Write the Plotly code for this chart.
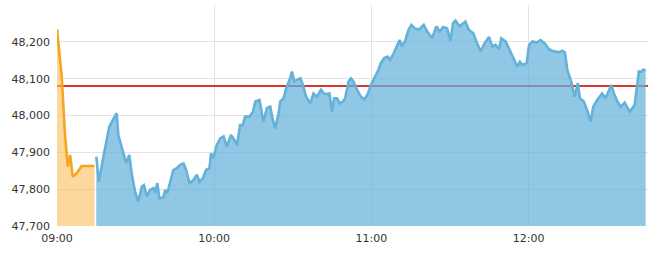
import pandas as pd
import plotly.graph_objects as go

base = pd.Timestamp("2024-01-01 09:00:00")

# Pre-open / opening auction segment (orange)
orange_minutes = [0, 1, 1.8, 3.0, 4.1, 5.0, 6.0, 7.5, 9.4, 14.3]
orange_values = [48234, 48165, 48106, 47953, 47861, 47893, 47834, 47843, 47863, 47863]

# Continuous session (blue)
blue_minutes = [15.0, 16.0, 17.7, 20.0, 22.0, 22.8, 23.4, 25.3, 26.4, 27.6, 28.5, 29.8, 31.0, 32.4,
                33.2, 34.3, 35.5, 36.8, 37.4, 38.3, 39.1, 40.6, 41.3, 42.1, 43.2, 44.4, 45.7, 47.0,
                48.3, 49.3, 50.6, 52.1, 53.4, 54.4, 55.7, 56.9, 58.2, 58.8, 59.7, 61.0, 62.3, 63.6,
                64.8, 66.4, 67.4, 68.7, 69.9, 70.9, 71.8, 73.5, 74.8, 75.7, 77.3, 78.2, 78.8, 80.1,
                81.4, 82.4, 83.3, 84.6, 85.2, 86.5, 87.5, 88.8, 89.7, 90.6, 91.6, 92.9, 93.9, 95.1,
                96.7, 97.9, 99.2, 100.8, 101.8, 103.1, 104.0, 105.0, 105.8, 106.9, 107.9, 109.2,
                110.0, 111.3, 112.2, 113.2, 114.5, 116.0, 117.3, 118.5, 119.8, 121.1, 122.4, 123.6,
                124.9, 126.2, 127.2, 128.5, 129.8, 130.8, 131.7, 133.0, 134.2, 135.3, 136.5, 138.1,
                140.0, 141.3, 143.2, 144.8, 146.1, 147.4, 148.9, 150.2, 151.2, 152.1, 153.7, 155.9,
                157.2, 158.9, 160.1, 161.7, 163.2, 164.9, 166.2, 167.4, 168.7, 169.6, 171.3, 172.5,
                174.2, 175.7, 176.7, 177.6, 179.3, 180.2, 181.5, 183.1, 184.6, 186.2, 187.8, 189.7,
                191.6, 192.9, 193.9, 194.8, 196.3, 197.6, 198.8, 199.6, 201.1, 202.6, 203.7, 204.7,
                206.2, 208.1, 209.4, 211.6, 212.6, 213.9, 215.2, 216.7, 218.7, 220.5, 222.1, 223.0,
                223.8, 224.7]
blue_values = [47888, 47820, 47888, 47970, 47997, 48006, 47947, 47897, 47871, 47893, 47843, 47793,
               47766, 47807, 47811, 47780, 47798, 47803, 47790, 47816, 47775, 47778, 47798, 47789,
               47820, 47852, 47857, 47866, 47870, 47852, 47816, 47825, 47839, 47820, 47830, 47852,
               47857, 47897, 47884, 47920, 47938, 47943, 47915, 47947, 47938, 47920, 47974, 47974,
               47997, 47997, 48010, 48038, 48042, 48006, 47983, 48020, 48024, 47988, 47965, 48006,
               48038, 48047, 48074, 48097, 48119, 48092, 48097, 48101, 48083, 48051, 48033, 48060,
               48051, 48070, 48060, 48058, 48060, 48010, 48047, 48047, 48033, 48038, 48047, 48092,
               48101, 48092, 48070, 48051, 48044, 48056, 48083, 48101, 48119, 48142, 48156, 48160,
               48151, 48169, 48187, 48205, 48187, 48205, 48233, 48246, 48237, 48233, 48246, 48228,
               48210, 48242, 48228, 48240, 48237, 48203, 48251, 48258, 48242, 48255, 48233, 48223,
               48201, 48174, 48196, 48213, 48187, 48192, 48180, 48210, 48201, 48183, 48160, 48133,
               48146, 48137, 48142, 48192, 48201, 48198, 48205, 48196, 48180, 48174, 48172, 48176,
               48171, 48124, 48092, 48051, 48088, 48047, 48038, 48010, 47983, 48024, 48042, 48060,
               48047, 48083, 48060, 48038, 48024, 48035, 48010, 48029, 48119, 48119, 48124, 48122]

prev_close = 48080
x_tick_labels = ["09:00", "10:00", "11:00", "12:00"]
y_ticks = [47700, 47800, 47900, 48000, 48100, 48200, 48300]
y_tick_labels = ["47,700", "47,800", "47,900", "48,000", "48,100", "48,200", ""]
axis_end_minutes = 225.6


def to_time(mins):
    return [base + pd.Timedelta(minutes=m) for m in mins]


end_time = base + pd.Timedelta(minutes=axis_end_minutes)
x_tickvals = [pd.Timestamp("2024-01-01 " + t + ":00") for t in x_tick_labels]

fig = go.Figure()
fig.add_trace(go.Scatter(x=[base, end_time], y=[prev_close, prev_close], mode="lines",
                         line=dict(color="#d9362c", width=2), hoverinfo="skip"))
fig.add_trace(go.Scatter(x=to_time(orange_minutes), y=orange_values, mode="lines",
                         line=dict(color="#f7a520", width=2.6), fill="tozeroy",
                         fillcolor="rgba(252,190,90,0.6)"))
fig.add_trace(go.Scatter(x=to_time(blue_minutes), y=blue_values, mode="lines",
                         line=dict(color="#64b1d9", width=2.6), fill="tozeroy",
                         fillcolor="rgba(100,178,218,0.72)"))

fig.update_layout(
    width=655, height=263,
    margin=dict(l=57, r=7, t=5, b=37),
    paper_bgcolor="white", plot_bgcolor="white",
    showlegend=False,
    font=dict(family="DejaVu Sans", size=11, color="#333333"),
)
fig.update_xaxes(range=[base, end_time], tickvals=x_tickvals, ticktext=x_tick_labels,
                 showgrid=True, gridcolor="#e3e3e3", gridwidth=1, zeroline=False,
                 showline=False, ticks="", ticklabelstandoff=4)
fig.update_yaxes(range=[47700, 48300], tickvals=y_ticks, ticktext=y_tick_labels,
                 showgrid=True, gridcolor="#e3e3e3", gridwidth=1, zeroline=False,
                 showline=False, ticks="", ticklabelstandoff=6)

fig.write_html("out.html")
